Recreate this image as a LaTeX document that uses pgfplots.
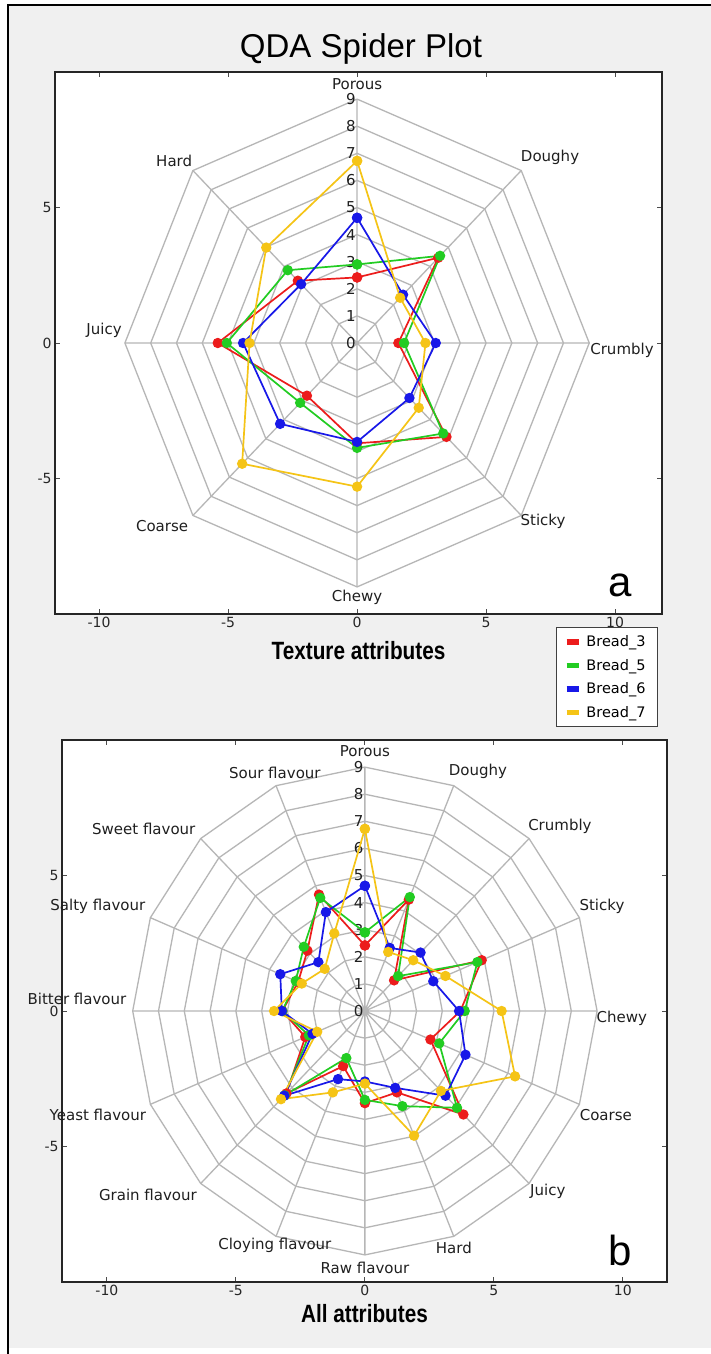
\documentclass[border=0pt]{standalone}
\usepackage{pgfplots}
\pgfplotsset{compat=1.18}
\usepackage{pgfplotstable}
\usepackage{fontspec}
\setmainfont{DejaVu Sans}
\newfontfamily\arialf{Liberation Sans}
\newfontfamily\narrowb[FakeStretch=0.83]{Liberation Sans Bold}

\definecolor{cR}{RGB}{236,28,28}
\definecolor{cG}{RGB}{34,204,34}
\definecolor{cB}{RGB}{24,24,232}
\definecolor{cY}{RGB}{245,196,22}
\definecolor{figbg}{RGB}{240,240,240}
\definecolor{gridc}{RGB}{182,182,182}

% Texture attributes: Porous, Doughy, Crumbly, Sticky, Chewy, Coarse, Juicy, Hard (first repeated to close)
\pgfplotstableread{
ang   r3   r5   r6   r7
90    2.42 2.90 4.62 6.72
45    4.45 4.55 2.52 2.36
0     1.60 1.82 3.05 2.65
-45   4.90 4.72 2.87 3.38
-90   3.70 3.87 3.65 5.30
-135  2.75 3.12 4.22 6.30
-180  5.40 5.05 4.42 4.17
-225  3.25 3.80 3.07 4.98
-270  2.42 2.90 4.62 6.72
}\texturetab

% All attributes (16), first repeated to close
\pgfplotstableread{
ang     r3   r5   r6   r7
90      2.42 2.90 4.62 6.72
67.5    4.45 4.55 2.52 2.36
45      1.60 1.82 3.05 2.65
22.5    4.90 4.72 2.87 3.38
0       3.70 3.87 3.65 5.30
-22.5   2.75 3.12 4.22 6.30
-45     5.40 5.05 4.42 4.17
-67.5   3.25 3.80 3.07 4.98
-90     3.40 3.28 2.60 2.68
-112.5  2.20 1.88 2.72 3.25
-135    4.30 4.40 4.42 4.60
-157.5  2.50 2.35 2.20 2.00
-180    3.20 3.20 3.22 3.52
-202.5  2.80 2.90 3.55 2.65
-225    3.15 3.35 2.55 2.20
-247.5  4.65 4.52 3.95 3.10
-270    2.42 2.90 4.62 6.72
}\alltab

\pgfplotsset{
  spider/.style={
    scale only axis, clip=false,
    axis background/.style={fill=white},
    axis line style={line width=1.4pt, black!85},
    xtick={-10,-5,0,5,10}, xticklabels={-10,-5,0,5,10},
    ytick={-5,0,5}, yticklabels={-5,0,5},
    tick align=inside, major tick length=5pt,
    tick style={black!70, line width=0.8pt},
    ticklabel style={font=\fontsize{14}{14}\selectfont, text=black!85},
  },
  sp/.style={line width=1.7pt, mark=*, mark size=4.3pt, mark options={solid}},
}
\tikzset{
  lab/.style={font=\fontsize{15}{15}\selectfont, text=black!88, inner sep=0pt},
  num/.style={font=\fontsize{15}{15}\selectfont, text=black!88, inner sep=0pt},
}

\newcommand\spiderplot[3]{%
  \addplot[#1, sp] table[x expr={\thisrow{#2}*cos(\thisrow{ang})},
                         y expr={\thisrow{#2}*sin(\thisrow{ang})}] {#3};}

\begin{document}
\begin{tikzpicture}
\fill[white] (0pt,0pt) rectangle (711pt,-1354pt);
\fill[figbg] (8pt,-5pt) rectangle (711pt,-1348pt);
\draw[black, line width=2.5pt] (8pt,-1354pt) -- (8pt,-5pt) -- (711pt,-5pt);

\node[font=\arialf\fontsize{33}{33}\selectfont, anchor=base] at (361pt,-57pt) {QDA Spider Plot};

% ---------------- top: texture attributes ----------------
\begin{axis}[spider,
  at={(55pt,-614pt)}, anchor=south west, width=607pt, height=542pt,
  xmin=-11.71, xmax=11.82, ymin=-10, ymax=10,
  xlabel={Texture attributes},
  xlabel style={at={(axis description cs:0.5,0)}, anchor=base, yshift=-45pt,
                font=\narrowb\fontsize{25}{25}\selectfont},
  legend style={at={(1,0)}, anchor=north east, xshift=-4pt, yshift=-13pt,
    draw=black!75, line width=1pt, fill=white,
    font=\fontsize{14.5}{15}\selectfont, row sep=7pt,
    inner xsep=7pt, inner ysep=6pt, cells={anchor=west},
    nodes={inner xsep=5pt}},
  legend image code/.code={\draw[line width=5.5pt] (0pt,0pt) -- (12pt,0pt);},
]
\draw[gridc, line width=1.3pt] \foreach \r in {1,...,9} {(axis cs:0,\r) \foreach \a in {45,0,...,-270} {-- (axis cs:{\r*cos(\a)},{\r*sin(\a)})}};
\draw[gridc, line width=1.3pt] \foreach \a in {90,45,...,-225} {(axis cs:0,0) -- (axis cs:{9*cos(\a)},{9*sin(\a)})};
\pgfplotsinvokeforeach{0,...,9}{\node[num] at (axis cs:-0.24,#1) {#1};}
\node[lab] at (axis cs:0,9.56) {Porous};
\node[lab] at (axis cs:7.48,6.84) {Doughy};
\node[lab] at (axis cs:10.27,-0.26) {Crumbly};
\node[lab] at (axis cs:7.21,-6.58) {Sticky};
\node[lab] at (axis cs:0,-9.38) {Chewy};
\node[lab] at (axis cs:-7.56,-6.76) {Coarse};
\node[lab] at (axis cs:-9.81,0.48) {Juicy};
\node[lab] at (axis cs:-7.09,6.73) {Hard};
\spiderplot{cR}{r3}{\texturetab}
\spiderplot{cG}{r5}{\texturetab}
\spiderplot{cB}{r6}{\texturetab}
\spiderplot{cY}{r7}{\texturetab}
\legend{Bread\_3,Bread\_5,Bread\_6,Bread\_7}
\end{axis}
\node[font=\arialf\fontsize{42}{42}\selectfont, anchor=base] at (620pt,-596pt) {a};

% ---------------- bottom: all attributes ----------------
\begin{axis}[spider,
  at={(62pt,-1282pt)}, anchor=south west, width=605pt, height=542pt,
  xmin=-11.74, xmax=11.71, ymin=-10, ymax=10,
  xlabel={All attributes},
  xlabel style={at={(axis description cs:0.5,0)}, anchor=base, yshift=-40pt,
                font=\narrowb\fontsize{25}{25}\selectfont},
]
\draw[gridc, line width=1.3pt] \foreach \r in {1,...,9} {(axis cs:0,\r) \foreach \a in {67.5,45,...,-270} {-- (axis cs:{\r*cos(\a)},{\r*sin(\a)})}};
\draw[gridc, line width=1.3pt] \foreach \a in {90,67.5,...,-247.5} {(axis cs:0,0) -- (axis cs:{9*cos(\a)},{9*sin(\a)})};
\pgfplotsinvokeforeach{0,...,9}{\node[num] at (axis cs:-0.24,#1) {#1};}
\node[lab] at (axis cs:0,9.58) {Porous};
\node[lab] at (axis cs:4.38,8.84) {Doughy};
\node[lab] at (axis cs:7.56,6.83) {Crumbly};
\node[lab] at (axis cs:9.19,3.88) {Sticky};
\node[lab] at (axis cs:9.96,-0.28) {Chewy};
\node[lab] at (axis cs:9.34,-3.84) {Coarse};
\node[lab] at (axis cs:7.09,-6.67) {Juicy};
\node[lab] at (axis cs:3.45,-8.73) {Hard};
\node[lab] at (axis cs:0,-9.47) {Raw flavour};
\node[lab] at (axis cs:-3.49,-8.63) {Cloying flavour};
\node[lab] at (axis cs:-8.41,-6.79) {Grain flavour};
\node[lab] at (axis cs:-10.35,-3.84) {Yeast flavour};
\node[lab] at (axis cs:-11.16,0.45) {Bitter flavour};
\node[lab] at (axis cs:-10.35,3.88) {Salty flavour};
\node[lab] at (axis cs:-8.57,6.71) {Sweet flavour};
\node[lab] at (axis cs:-3.49,8.77) {Sour flavour};
\spiderplot{cR}{r3}{\alltab}
\spiderplot{cG}{r5}{\alltab}
\spiderplot{cB}{r6}{\alltab}
\spiderplot{cY}{r7}{\alltab}
\end{axis}
\node[font=\arialf\fontsize{42}{42}\selectfont, anchor=base] at (620pt,-1265pt) {b};

\pgfresetboundingbox
\useasboundingbox (0pt,0pt) rectangle (711pt,-1354pt);
\end{tikzpicture}
\end{document}
